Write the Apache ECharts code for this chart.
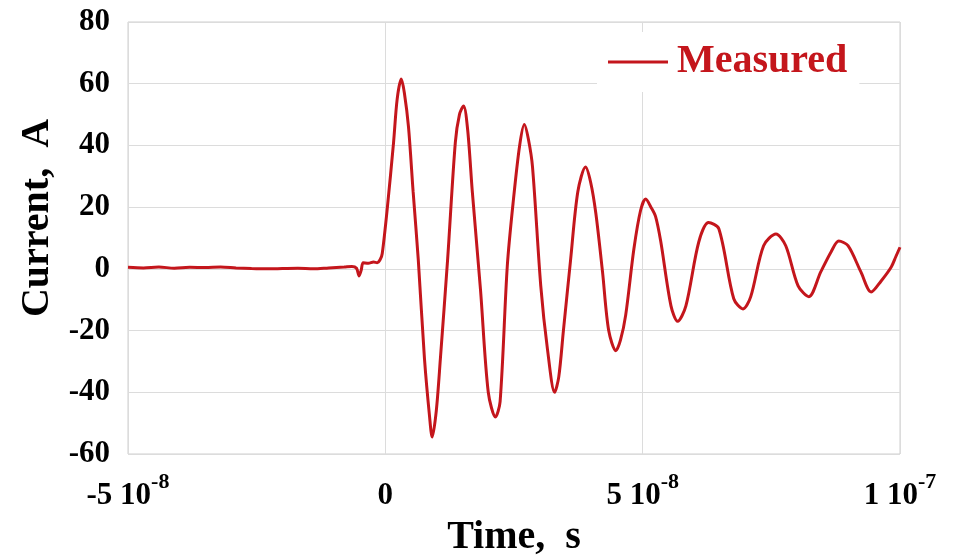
<!DOCTYPE html>
<html>
<head>
<meta charset="utf-8">
<script src="https://cdn.jsdelivr.net/npm/echarts@6/dist/echarts.min.js"></script>
<style>
  html, body { margin: 0; padding: 0; background: #fff; }
  #chart { width: 957px; height: 556px; }
</style>
</head>
<body>
<div id="chart"></div>
<script>
// time in ns (axis labels show it in seconds), current in A
var timeNs = [
  -50, -47, -44, -41, -38, -35, -32, -29, -26, -23, -20, -17, -14, -11, -8, -6.5,
  -5.6, -5.1, -4.7, -4.3, -3.3, -2.3, -1.6, -1.0, -0.6,
  0.4, 1.6, 2.3, 3.1, 3.7, 4.5, 5.4, 6.4, 7.6, 8.6, 9.1, 9.9, 10.7,
  12.1, 13.6, 14.4, 15.2, 16.0, 16.9, 18.5, 20.0, 21.4, 22.3,
  23.7, 24.9, 26.1, 27.0, 27.8, 28.6, 30.2, 31.5, 32.9, 33.7,
  34.6, 36.0, 37.4, 38.9, 39.9, 40.9, 42.2, 43.4, 44.8, 45.7,
  46.7, 48.3, 49.6, 50.6, 51.6, 52.5, 53.5, 55.5, 56.8, 58.4,
  60.9, 62.8, 64.8, 67.7, 69.5, 71.0, 73.5, 75.9, 77.8, 80.2,
  82.3, 84.6, 86.6, 88.1, 89.9, 92.4, 94.4, 96.3, 98.3, 99.2, 100
];
var currentA = [
  0.5, 0.3, 0.6, 0.2, 0.5, 0.4, 0.6, 0.3, 0.1, 0.0, 0.1, 0.2, 0.0, 0.3, 0.6, 0.8,
  0.2, -2.3, -0.5, 2.0, 1.8, 2.2, 2.0, 3.0, 5,
  20, 41, 55, 61.5, 57, 46, 25, 3, -29, -48, -54.5, -46, -29,
  3, 41, 50, 52.8, 45, 25, -7, -40, -48, -43,
  1, 22.6, 40, 46.8, 42, 33, -5.5, -26, -40, -35,
  -20, 3, 25, 33, 28, 18, -1, -20, -26.5, -23,
  -15, 6.5, 19, 22.6, 20, 17, 9, -12, -17, -12,
  8.7, 15, 13, -9.7, -13, -9, 7.5, 11.3, 7.5, -5.5,
  -9, -1, 5.5, 9, 7.5, -1, -7.5, -4, 0.6, 4, 7
];
var xTickValues = [-50, 0, 50, 100];
var xTickMantissa = ['-5', '0', '5', '1'];
var xTickExponent = ['-8', '', '-8', '-7'];

var seriesData = timeNs.map(function (t, i) { return [t, currentA[i]]; });

var serif = '"Liberation Serif", "Times New Roman", serif';
var red = '#c4161c';

var myChart = echarts.init(document.getElementById('chart'));
myChart.setOption({
  animation: false,
  backgroundColor: '#fff',
  grid: {
    left: 128, right: 57, top: 22, bottom: 102,
    containLabel: false,
    outerBoundsMode: 'none',
    show: true, borderColor: '#cfcfcf', borderWidth: 1
  },
  legend: {
    data: ['Measured'],
    left: 597, top: 32,
    padding: [10, 12, 10, 11],
    backgroundColor: '#fff',
    icon: 'rect',
    itemWidth: 60, itemHeight: 3,
    textStyle: {
      color: red, fontFamily: serif, fontWeight: 'bold', fontSize: 40,
      padding: [0, 0, 0, 4]
    }
  },
  xAxis: {
    type: 'value',
    min: -50, max: 100, interval: 50,
    name: 'Time,  s',
    nameLocation: 'middle',
    nameGap: 64,
    nameTextStyle: { color: '#000', fontFamily: serif, fontWeight: 'bold', fontSize: 40 },
    axisLine: { show: false },
    axisTick: { show: false },
    splitLine: { show: true, lineStyle: { color: '#dcdcdc', width: 1 } },
    axisLabel: {
      margin: 17,
      color: '#000',
      formatter: function (v) {
        var i = xTickValues.indexOf(v);
        if (i < 0) return '';
        if (!xTickExponent[i]) return '{m|' + xTickMantissa[i] + '}';
        return '{m|' + xTickMantissa[i] + ' 10}{e|' + xTickExponent[i] + '}';
      },
      rich: {
        m: { fontFamily: serif, fontWeight: 'bold', fontSize: 31, lineHeight: 40, verticalAlign: 'bottom', color: '#000' },
        e: { fontFamily: serif, fontWeight: 'bold', fontSize: 22, lineHeight: 16, verticalAlign: 'top', color: '#000' }
      }
    }
  },
  yAxis: {
    type: 'value',
    min: -60, max: 80, interval: 20,
    name: 'Current,  A',
    nameLocation: 'middle',
    nameGap: 68,
    nameTextStyle: {
      color: '#000', fontFamily: serif, fontWeight: 'bold', fontSize: 40,
      padding: [0, 0, 0, 40]
    },
    axisLine: { show: false },
    axisTick: { show: false },
    splitLine: { show: true, lineStyle: { color: '#dcdcdc', width: 1 } },
    axisLabel: {
      margin: 18,
      color: '#000', fontFamily: serif, fontWeight: 'bold', fontSize: 31
    }
  },
  series: [{
    name: 'Measured',
    type: 'line',
    data: seriesData,
    symbol: 'none',
    smooth: 0.3,
    lineStyle: { color: red, width: 3 },
    itemStyle: { color: red }
  }]
});
</script>
</body>
</html>
